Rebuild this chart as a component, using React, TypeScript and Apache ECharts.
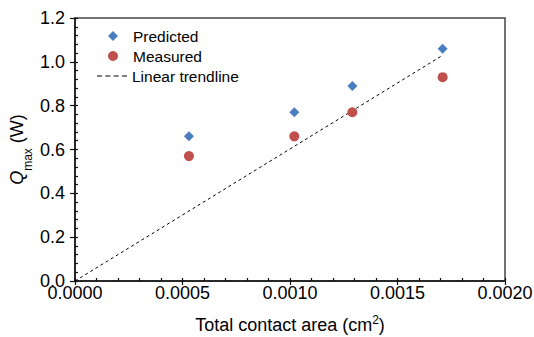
import React, { useEffect, useRef } from "react";
import * as echarts from "echarts";

const areas = [0.00053, 0.00102, 0.00129, 0.00171];
const predicted = [0.66, 0.77, 0.89, 1.06];
const measured = [0.57, 0.66, 0.77, 0.93];
const trendX = [0, 0.00171];
const trendY = [0, 1.03];
const xTicks = [0, 0.0005, 0.001, 0.0015, 0.002];
const yTicks = [0, 0.2, 0.4, 0.6, 0.8, 1.0, 1.2];

const FONT = "'Liberation Sans', Arial, Helvetica, sans-serif";
const BLUE = "#4a7ebf";
const RED = "#c0504d";
const DASH_ICON = "path://M0,0h5v1h-5z M8.33,0h5v1h-5z M16.66,0h5v1h-5z M25,0h5v1h-5z";

export default function App() {
  const ref = useRef<HTMLDivElement>(null);
  useEffect(() => {
    if (!ref.current) return;
    const chart = echarts.init(ref.current, null, { renderer: "svg" });
    const axisLine = { show: true, lineStyle: { color: "#111", width: 1.5 } };
    const tickStyle = { color: "#111", width: 1.2 };
    const legendText = { fontSize: 15.5, lineHeight: 14, color: "#000", fontFamily: FONT };
    chart.setOption({
      animation: false,
      textStyle: { fontFamily: FONT },
      grid: {
        left: 75,
        right: 29,
        top: 18,
        bottom: 56,
        show: true,
        borderColor: "#444",
        borderWidth: 1.5,
        containLabel: false,
        outerBoundsMode: "none",
      },
      legend: [
        {
          orient: "vertical",
          left: 103,
          top: 23,
          itemWidth: 10,
          itemHeight: 10,
          textStyle: { ...legendText, padding: [0, 0, 0, 10] },
          data: [{ name: "Predicted", icon: "diamond" }],
        },
        {
          orient: "vertical",
          left: 103,
          top: 43,
          itemWidth: 10,
          itemHeight: 10,
          textStyle: { ...legendText, padding: [0, 0, 0, 10] },
          data: [{ name: "Measured", icon: "circle" }],
        },
        {
          orient: "vertical",
          left: 92,
          top: 63,
          itemWidth: 30,
          itemHeight: 1,
          symbolKeepAspect: false,
          textStyle: legendText,
          data: [{ name: "Linear trendline", icon: DASH_ICON, itemStyle: { color: "#000", borderWidth: 0 } }],
        },
      ],
      xAxis: [
        {
          type: "value",
          min: xTicks[0],
          max: xTicks[xTicks.length - 1],
          interval: xTicks[1] - xTicks[0],
          position: "bottom",
          axisLine,
          axisTick: { show: true, inside: false, length: 4, lineStyle: tickStyle },
          minorTick: { show: false },
          splitLine: { show: false },
          axisLabel: {
            fontSize: 18,
            color: "#000",
            margin: 3,
            fontFamily: FONT,
            formatter: (v: number) => v.toFixed(4),
          },
          name: "{a|Total contact area (cm}{sup|2}{a|)}",
          nameLocation: "middle",
          nameGap: 33,
          nameMoveOverlap: false,
          nameTextStyle: {
            rich: {
              a: { fontSize: 18, color: "#000", fontFamily: FONT, lineHeight: 22 },
              sup: { fontSize: 12, color: "#000", fontFamily: FONT, lineHeight: 13, verticalAlign: "top" },
            },
          },
        },
        {
          type: "value",
          min: xTicks[0],
          max: xTicks[xTicks.length - 1],
          interval: xTicks[1] - xTicks[0],
          position: "bottom",
          axisLine: { show: false },
          axisTick: { show: true, inside: true, length: 3, lineStyle: tickStyle },
          minorTick: { show: true, splitNumber: 5, length: 3, lineStyle: tickStyle },
          splitLine: { show: false },
          axisLabel: { show: false },
        },
      ],
      yAxis: [
        {
          type: "value",
          min: yTicks[0],
          max: yTicks[yTicks.length - 1],
          interval: 0.2,
          position: "left",
          axisLine,
          axisTick: { show: true, inside: false, length: 5, lineStyle: tickStyle },
          minorTick: { show: false },
          splitLine: { show: false },
          axisLabel: {
            fontSize: 18,
            color: "#000",
            margin: 10,
            fontFamily: FONT,
            formatter: (v: number) => v.toFixed(1),
          },
          name: "{i|Q}{sub|max}{a| (W)}",
          nameLocation: "middle",
          nameRotate: 90,
          nameGap: 41,
          nameMoveOverlap: false,
          nameTextStyle: {
            rich: {
              a: { fontSize: 18, color: "#000", fontFamily: FONT, lineHeight: 26, verticalAlign: "top" },
              i: { fontSize: 18, color: "#000", fontFamily: FONT, fontStyle: "italic", lineHeight: 26, verticalAlign: "top" },
              sub: { fontSize: 12, color: "#000", fontFamily: FONT, lineHeight: 14, verticalAlign: "bottom" },
            },
          },
        },
        {
          type: "value",
          min: yTicks[0],
          max: yTicks[yTicks.length - 1],
          interval: 0.2,
          position: "left",
          axisLine: { show: false },
          axisTick: { show: true, inside: true, length: 3, lineStyle: tickStyle },
          minorTick: { show: true, splitNumber: 5, length: 3, lineStyle: tickStyle },
          splitLine: { show: false },
          axisLabel: { show: false },
        },
      ],
      series: [
        {
          name: "Linear trendline",
          type: "line",
          data: trendX.map((x, i) => [x, trendY[i]]),
          symbol: "none",
          lineStyle: { color: "#000", width: 1, type: [3, 3] },
          itemStyle: { color: "#000" },
          z: 1,
        },
        {
          name: "Predicted",
          type: "scatter",
          symbol: "diamond",
          symbolSize: 10,
          itemStyle: { color: BLUE, opacity: 1 },
          data: areas.map((x, i) => [x, predicted[i]]),
          z: 3,
        },
        {
          name: "Measured",
          type: "scatter",
          symbol: "circle",
          symbolSize: 10,
          itemStyle: { color: RED, opacity: 1 },
          data: areas.map((x, i) => [x, measured[i]]),
          z: 3,
        },
      ],
    });
    return () => chart.dispose();
  }, []);
  return <div ref={ref} style={{ width: 534, height: 337, position: "absolute", left: 0, top: 0 }} />;
}
